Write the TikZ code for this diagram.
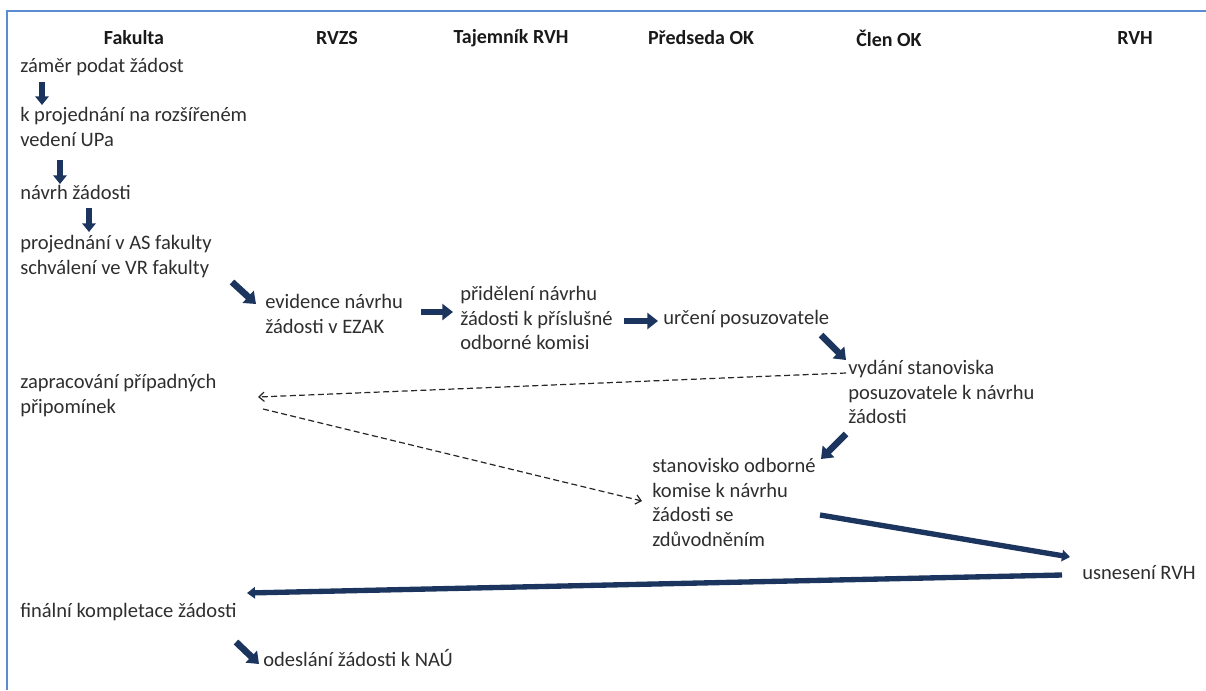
\documentclass[tikz,border=0pt]{standalone}
\usepackage{fontspec}
\setmainfont{Carlito}
\usetikzlibrary{arrows.meta}
\definecolor{navy}{HTML}{1C355E}
\definecolor{frameblue}{HTML}{5B8BD0}
\definecolor{txtgray}{HTML}{2E2E2E}
\begin{document}
\begin{tikzpicture}[x=0.75pt,y=-0.75pt,
  txt/.style={anchor=north west, align=left, inner sep=0pt, text=txtgray,
    font=\fontsize{15.4}{18.4}\selectfont},
  hdr/.style={anchor=center, inner sep=0pt, text=black!90,
    font=\fontsize{15}{17}\selectfont\bfseries},
  blk/.style={draw=navy, line width=5pt, -{Triangle[length=8pt,width=12pt]}},
  vblk/.style={draw=navy, line width=4pt, -{Triangle[length=6.5pt,width=10pt]}},
  longar/.style={draw=navy, line width=4pt, -{Triangle[length=6pt,width=8.5pt]}},
  dashar/.style={draw=black!85, line width=0.9pt, dash pattern=on 4.5pt off 2.5pt,
    -{Straight Barb[length=4pt,width=7pt]}}
]
\useasboundingbox (0,0) rectangle (1206,690);
\draw[frameblue, line width=1.6pt] (7,690) -- (7,11) -- (1206,11);

% headers
\node[hdr] (h1) at (134,38) {Fakulta};
\node[hdr] (h2) at (337,38) {RVZS};
\node[hdr] (h3) at (511,38) {Tajemník RVH};
\node[hdr] (h4) at (701,38) {Předseda OK};
\node[hdr] (h5) at (889,38) {Člen OK};
\node[hdr] (h6) at (1135,38) {RVH};

% Fakulta column
\node[txt] (f1) at (20,58) {záměr podat žádost};
\node[txt] (f2) at (20,107) {k projednání na rozšířeném\\vedení UPa};
\node[txt] (f3) at (20,185) {návrh žádosti};
\node[txt] (f4) at (20,235) {projednání v AS fakulty\\schválení ve VR fakulty};
\node[txt] (f5) at (20,374) {zapracování případných\\připomínek};
\node[txt] (f6) at (20,603) {finální kompletace žádosti};

% others
\node[txt] (r1) at (265,294) {evidence návrhu\\žádosti v EZAK};
\node[txt] (t1) at (460,286) {přidělení návrhu\\žádosti k příslušné\\odborné komisi};
\node[txt] (p1) at (663,310) {určení posuzovatele};
\node[txt] (c1) at (848,360) {vydání stanoviska\\posuzovatele k návrhu\\žádosti};
\node[txt] (p2) at (652,458) {stanovisko odborné\\komise k návrhu\\žádosti se\\zdůvodněním};
\node[txt] (v1) at (1082,565) {usnesení RVH};
\node[txt] (r2) at (263,649) {odeslání žádosti k NAÚ};

% arrow end points
\coordinate (a1s) at (42,82);   \coordinate (a1e) at (42,105);
\coordinate (a2s) at (60,160);  \coordinate (a2e) at (60,184);
\coordinate (a3s) at (89,208);  \coordinate (a3e) at (89,232);
\coordinate (a4s) at (232,282); \coordinate (a4e) at (256,304);
\coordinate (a5s) at (421,312); \coordinate (a5e) at (453,312);
\coordinate (a6s) at (624,321); \coordinate (a6e) at (658,321);
\coordinate (a7s) at (821,335); \coordinate (a7e) at (846,360);
\coordinate (a8s) at (846,434); \coordinate (a8e) at (821,459);
\coordinate (a9s) at (236,642); \coordinate (a9e) at (259,664);
\coordinate (d1s) at (846,373); \coordinate (d1e) at (258,397);
\coordinate (d2s) at (263,409); \coordinate (d2e) at (642,501);
\coordinate (l1s) at (820,515); \coordinate (l1e) at (1070,557);
\coordinate (l2s) at (1062,575); \coordinate (l2e) at (247,593);

\draw[vblk] (a1s) -- (a1e);
\draw[vblk] (a2s) -- (a2e);
\draw[vblk] (a3s) -- (a3e);
\draw[blk] (a4s) -- (a4e);
\draw[blk] (a5s) -- (a5e);
\draw[blk] (a6s) -- (a6e);
\draw[blk] (a7s) -- (a7e);
\draw[blk] (a8s) -- (a8e);
\draw[blk] (a9s) -- (a9e);
\draw[dashar] (d1s) -- (d1e);
\draw[dashar] (d2s) -- (d2e);
\draw[longar] (l1s) -- (l1e);
\draw[longar] (l2s) -- (l2e);
\end{tikzpicture}
\end{document}
